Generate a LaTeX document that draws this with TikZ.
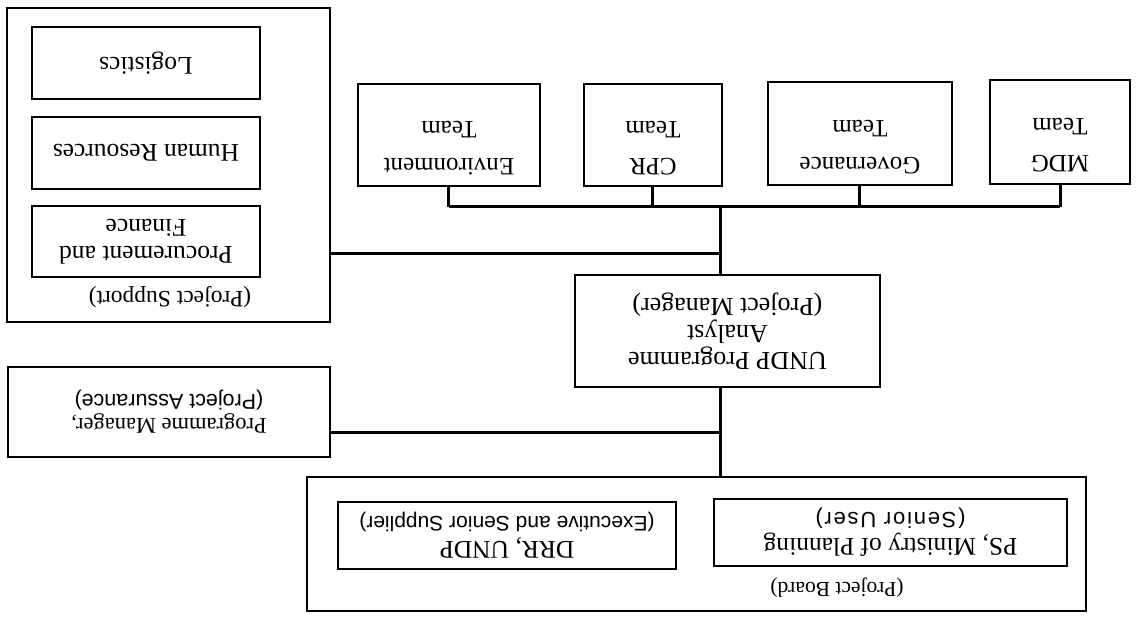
\documentclass[tikz,border=0pt]{standalone}
\usepackage{fontspec}
\setmainfont{Liberation Serif}
\newfontfamily\arialfont{Liberation Sans}
\newfontfamily\widearial[LetterSpace=8]{Liberation Sans}
\newcommand{\notefont}{\fontsize{21}{24}\selectfont\arialfont}
\tikzset{
    box/.style={draw, line width=1.4pt, inner sep=0pt, align=center,
        font=\fontsize{25.5}{27}\selectfont},
    teambox/.style={box, font=\fontsize{25}{37}\selectfont, text depth=27pt},
    group/.style={draw, line width=1.4pt, inner sep=0pt},
    link/.style={line width=3pt},
}
\begin{document}
% the sheet was scanned upside down, so the whole chart is turned round
\begin{tikzpicture}[x=1pt, y=-1pt, rotate=180, transform shape]
    \useasboundingbox (0,0) rectangle (1137,616);
    % project board
    \node[group, minimum width=779pt, minimum height=134pt] (board) at (440.5,72) {};
        \node[box, minimum width=353pt, minimum height=67pt] (user) at (246.5,83.5)
            {PS, Ministry of Planning\\[-1pt]{\fontsize{22}{24}\selectfont\widearial (Senior User)}};
        \node[box, minimum width=338pt, minimum height=67pt] (exec) at (630,80.5)
            {DRR, UNDP\\[-2pt]{\notefont (Executive and Senior Supplier)}};
        \node[font=\fontsize{21.5}{24}\selectfont] (boardlbl) at (300,28) {(Project Board)};
    % project manager and assurance
    \node[box, minimum width=305pt, minimum height=112pt, font=\fontsize{26}{27}\selectfont]
        (analyst) at (409.5,285) {UNDP Programme\\Analyst\\(Project Manager)};
    \node[box, minimum width=322pt, minimum height=90pt, font=\fontsize{22.5}{26}\selectfont]
        (pm) at (968,204)
        {Programme Manager,\\[-2pt]{\fontsize{21.5}{24}\selectfont\arialfont (Project Assurance)}};
    % project support
    \node[group, minimum width=323pt, minimum height=314pt] (support) at (968.5,451) {};
        \node[font=\fontsize{23.5}{25}\selectfont] (supportlbl) at (967,319) {(Project Support)};
        \node[box, minimum width=228pt, minimum height=71pt] (finance) at (991,374.5)
            {Procurement and\\Finance};
        \node[box, minimum width=228pt, minimum height=72pt] (hr) at (991,463) {Human Resources};
        \node[box, minimum width=228pt, minimum height=72pt] (logistics) at (991,553) {Logistics};
    % teams
    \node[teambox, minimum width=182pt, minimum height=102pt] (env) at (688,481) {Environment\\Team};
    \node[teambox, minimum width=138pt, minimum height=102pt] (cpr) at (484,481) {CPR\\Team};
    \node[teambox, minimum width=184pt, minimum height=103pt] (gov) at (277,482.5) {Governance\\Team};
    \node[teambox, minimum width=140pt, minimum height=104pt] (mdg) at (77,484) {MDG\\Team};

    % connectors
    \coordinate (bus) at (416,409);
    \coordinate (pmjoin) at (416,183);
    \coordinate (supjoin) at (416,362);
    \draw[link] (bus |- board.south) -- (bus |- analyst.north);
    \draw[link] (bus |- analyst.south) -- (bus);
    \draw[link] (pmjoin) -- (pmjoin -| pm.west);
    \draw[link] (supjoin) -- (supjoin -| support.west);
    \draw[link] (mdg.north |- bus) -- (env.north |- bus);
    \foreach \t in {env, cpr, gov, mdg}
        \draw[link] (\t.north) -- (\t.north |- bus);
\end{tikzpicture}
\end{document}
